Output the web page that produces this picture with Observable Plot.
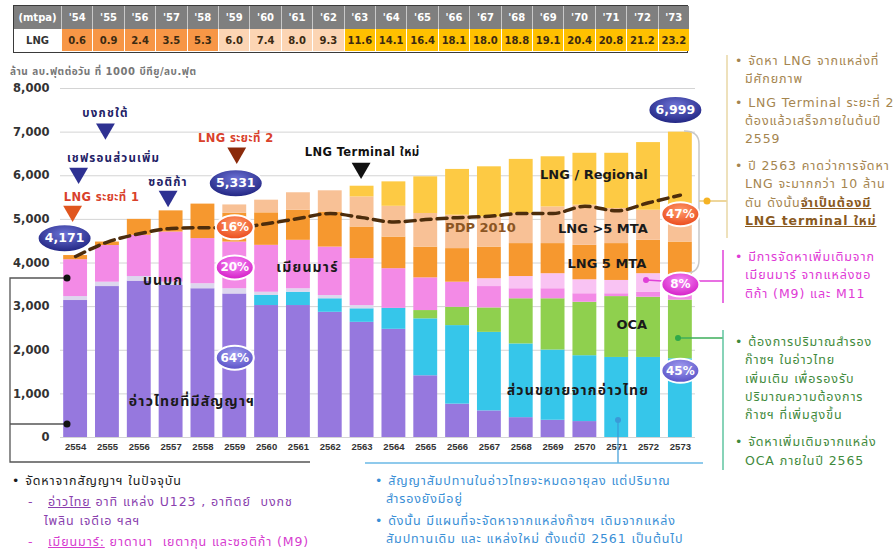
<!DOCTYPE html>
<html><head><meta charset="utf-8">
<script src="https://cdn.jsdelivr.net/npm/d3@7"></script>
<script src="https://cdn.jsdelivr.net/npm/@observablehq/plot@0.6"></script>
<style>
body{margin:0;background:#fff;font-family:"DejaVu Sans","Noto Sans Thai","Noto Sans",sans-serif;}
#root{position:relative;width:896px;height:551px;overflow:hidden;background:#fff;}
#root svg.chart{position:absolute;left:0;top:0;}
.cell{position:absolute;box-sizing:border-box;display:flex;align-items:center;justify-content:center;font-weight:bold;font-size:10px;font-family:"DejaVu Sans",sans-serif;}
.ln{position:absolute;white-space:nowrap;font-size:12.5px;line-height:16px;letter-spacing:0.9px;font-family:"DejaVu Sans","Noto Sans Thai",sans-serif;}
</style></head><body><div id="root"></div>
<script>
// ---------- data ----------
const years = ["2554","2555","2556","2557","2558","2559","2560","2561","2562","2563","2564","2565","2566","2567","2568","2569","2570","2571","2572","2573"];
const tableYears = ["'54","'55","'56","'57","'58","'59","'60","'61","'62","'63","'64","'65","'66","'67","'68","'69","'70","'71","'72","'73"];
const lngMtpa = ["0.6","0.9","2.4","3.5","5.3","6.0","7.4","8.0","9.3","11.6","14.1","16.4","18.1","18.0","18.8","19.1","20.4","20.8","21.2","23.2"];
const layerNames = ["อ่าวไทยที่มีสัญญาฯ","ส่วนขยายจากอ่าวไทย","บนบก","OCA","เมียนมาร์","เมียนมาร์ (เพิ่มเติม)","LNG 5 MTA","LNG >5 MTA","LNG / Regional"];
const gulfContract = [3140,3460,3585,3485,3410,3290,3025,3025,2870,2640,2480,1415,765,610,455,395,365,0,0,0];
const gulfExtension = [0,0,0,0,0,0,230,305,310,310,480,1305,1800,1800,1690,1610,1510,1835,1835,1805];
const onshore = [90,100,105,75,115,120,75,80,75,75,0,0,0,0,0,0,0,0,0,0];
const oca = [0,0,0,0,0,0,0,0,0,0,0,190,420,560,1035,1175,1225,1395,1380,1345];
const myanmar = [845,840,945,1150,1035,1070,1075,1110,1110,1075,910,750,575,490,230,230,195,65,110,150];
const myanmarNew = [0,0,0,0,0,0,0,0,0,0,0,0,0,180,280,345,320,305,430,410];
const lng5 = [96,80,365,485,790,660,745,690,805,725,725,705,770,725,755,690,790,845,765,770];
const lngOver5 = [0,0,0,0,0,191,290,400,485,690,705,770,765,690,690,840,920,805,690,730];
const lngRegional = [0,0,0,0,0,0,0,0,0,245,560,840,1050,1150,1240,1150,1190,1265,1550,1789];
const pdp2010 = [4150,4480,4670,4790,4810,4810,4900,5020,5135,5040,4940,4995,5040,5070,5135,5135,5300,5195,5380,5555];
const yTicks = [0,1000,2000,3000,4000,5000,6000,7000,8000];

// annotations (anchor year + value; dx = offset within the band)
const totalLabels = [{year:"2554",v:4565,t:"4,171",dx:-11},{year:"2559",v:5830,t:"5,331",dx:1},{year:"2573",v:7510,t:"6,999",dx:-5}];
const shareLabels = [{year:"2559",v:4818,t:"16%",g:"r"},{year:"2559",v:3899,t:"20%",g:"m"},{year:"2559",v:1829,t:"64%",g:"b"},
                     {year:"2573",v:5118,t:"47%",g:"r"},{year:"2573",v:3508,t:"8%",g:"m"},{year:"2573",v:1530,t:"45%",g:"b"}];
const events = [
  {year:"2554",v:5187,tv:5508,t:"LNG ระยะที่ 1",k:"red",dx:-3,tdx:26},
  {year:"2554",v:6060,tv:6405,t:"เชฟรอนส่วนเพิ่ม",k:"navy",dx:3,tdx:38},
  {year:"2555",v:7072,tv:7440,t:"บงกชใต้",k:"navy",dx:-2,tdx:-2},
  {year:"2557",v:5530,tv:5853,t:"ซอติก้า",k:"navy",dx:-3,tdx:-3},
  {year:"2559",v:6520,tv:6865,t:"LNG ระยะที่ 2",k:"brown",dx:2,tdx:1},
  {year:"2563",v:6175,tv:6543,t:"LNG Terminal ใหม่",k:"black",dx:-1,tdx:0}];
const seriesLabels = [
  {year:"2558",v:816,t:"อ่าวไทยที่มีสัญญาฯ",dx:-11},
  {year:"2557",v:3600,t:"บนบก",dx:-8},
  {year:"2561",v:3900,t:"เมียนมาร์",dx:9},
  {year:"2570",v:1070,t:"ส่วนขยายจากอ่าวไทย",dx:-7}];
const lngLabels = [
  {year:"2570",v:6015,t:"LNG / Regional",dx:9},
  {year:"2570",v:4772,t:"LNG >5 MTA",dx:18},
  {year:"2570",v:3990,t:"LNG 5 MTA",dx:22},
  {year:"2571",v:2588,t:"OCA",dx:15}];
const pdpLabel = [{year:"2567",v:4795,t:"PDP 2010",dx:-9}];

// ---------- styles ----------
const layerColors = ["#9678de","#36c6ea","#ddd7ee","#8fd04e","#f38ae6","#f9c3f3","#f6982f","#f8c196","#fdca44"];
const eventColor = {red:"#e0561e",navy:"#2e3192",brown:"#8b2a0a",black:"#111"};
const eventText = {red:"#d9412b",navy:"#1f2266",brown:"#d9412b",black:"#111"};
const shareFill = {r:"url(#gRed)",m:"url(#gMag)",b:"url(#gBlue)"};
const FONT = '"DejaVu Sans","Noto Sans Thai","Noto Sans",sans-serif';

const rows = [];
[gulfContract,gulfExtension,onshore,oca,myanmar,myanmarNew,lng5,lngOver5,lngRegional].forEach((s,li)=>
  s.forEach((v,i)=>rows.push({year:years[i],layer:layerNames[li],value:v})));
const pdpRows = years.map((y,i)=>({year:y,v:pdp2010[i]}));

const ellipse = (rx, ry) => ({draw(ctx){ const k=0.5523;
  ctx.moveTo(rx,0); ctx.bezierCurveTo(rx,ry*k,rx*k,ry,0,ry); ctx.bezierCurveTo(-rx*k,ry,-rx,ry*k,-rx,0);
  ctx.bezierCurveTo(-rx,-ry*k,-rx*k,-ry,0,-ry); ctx.bezierCurveTo(rx*k,-ry,rx,-ry*k,rx,0); ctx.closePath(); }});

// one mark per annotation so each gets its own constant offset
const texts = (arr, opts, dxKey="dx", yKey="v") => arr.map(d => Plot.text([d], {x:"year", y:yKey, text:"t", ...opts, dx:d[dxKey]||0}));
const dots = (arr, opts) => arr.map(d => Plot.dot([d], {x:"year", y:"v", ...opts, dx:d.dx||0}));

function defsMark(){
  const g = d3.create("svg:g");
  const defs = g.append("defs");
  const grad = (id, c0, c1) => { const r = defs.append("radialGradient").attr("id",id).attr("cx","50%").attr("cy","35%").attr("r","65%");
    r.append("stop").attr("offset","0%").attr("stop-color",c0); r.append("stop").attr("offset","100%").attr("stop-color",c1); };
  grad("gNavy","#6d73d6","#1f2380");
  grad("gRed","#ff9a6a","#ea4a1c");
  grad("gMag","#f58af5","#d41cc6");
  grad("gBlue","#a19ef0","#5850c6");
  return g.node();
}
function connectors(){
  const g = d3.create("svg:g").attr("fill","none");
  g.append("path").attr("d","M684,131 Q699,131 699,144 L699,260 Q699,273 686,273").attr("stroke","#c8c8c8").attr("stroke-width",1.5);
  g.append("line").attr("x1",699).attr("x2",727).attr("y1",201).attr("y2",201).attr("stroke","#e8c87a").attr("stroke-width",1.5);
  g.append("line").attr("x1",727).attr("x2",727).attr("y1",55).attr("y2",238).attr("stroke","#e8d7a6").attr("stroke-width",1.5);
  g.append("circle").attr("cx",707).attr("cy",201).attr("r",3.5).attr("fill","#f5b324");
  g.append("line").attr("x1",646).attr("x2",662).attr("y1",280).attr("y2",281).attr("stroke","#e040d8").attr("stroke-width",1.5);
  g.append("line").attr("x1",697).attr("x2",723).attr("y1",281).attr("y2",281).attr("stroke","#e040d8").attr("stroke-width",1.5);
  g.append("line").attr("x1",723).attr("x2",723).attr("y1",250).attr("y2",303).attr("stroke","#e040d8").attr("stroke-width",1.5);
  g.append("circle").attr("cx",646).attr("cy",280).attr("r",3).attr("fill","#e040d8");
  g.append("line").attr("x1",678).attr("x2",723).attr("y1",338).attr("y2",338).attr("stroke","#3cae5a").attr("stroke-width",1.5);
  g.append("line").attr("x1",723).attr("x2",723).attr("y1",330).attr("y2",470).attr("stroke","#5fc4a0").attr("stroke-width",1.5);
  g.append("circle").attr("cx",678).attr("cy",338).attr("r",3).attr("fill","#2fa84a");
  g.append("line").attr("x1",618).attr("x2",618).attr("y1",420).attr("y2",463).attr("stroke","#3a9ad8").attr("stroke-width",1.2);
  g.append("line").attr("x1",365).attr("x2",703).attr("y1",463).attr("y2",463).attr("stroke","#6ab8e6").attr("stroke-width",1.5);
  g.append("circle").attr("cx",618).attr("cy",420).attr("r",3).attr("fill","#3a9ad8");
  g.append("path").attr("d","M67,278 L10,278 L10,462 L310,462").attr("stroke","#555").attr("stroke-width",1.3);
  g.append("line").attr("x1",10).attr("x2",67).attr("y1",424).attr("y2",424).attr("stroke","#555").attr("stroke-width",1.3);
  g.append("circle").attr("cx",67).attr("cy",278).attr("r",3.5).attr("fill","#111");
  g.append("circle").attr("cx",67).attr("cy",424).attr("r",3.5).attr("fill","#111");
  return g.node();
}

const chart = Plot.plot({
  width:896, height:551, marginTop:88, marginBottom:114, marginLeft:60, marginRight:201,
  style:{fontFamily:FONT, background:"transparent", overflow:"visible"},
  x:{domain:years, paddingInner:0.25, paddingOuter:0.1, round:false, axis:null, label:null},
  y:{domain:[0,8000], axis:null, label:null},
  color:{domain:layerNames, range:layerColors},
  marks:[
    defsMark,
    Plot.gridY(yTicks,{stroke:"#d4d4d4",strokeOpacity:1}),
    Plot.axisY(yTicks,{tickSize:0,tickPadding:11,tickFormat:d3.format(","),fontWeight:"bold",fontSize:11.5,fill:"#333",label:null,fontFamily:'"DejaVu Sans",sans-serif'}),
    Plot.axisX({tickSize:0,tickPadding:6,fontWeight:"bold",fontSize:9.5,fill:"#333",label:null,fontFamily:'"Liberation Sans",Arial,sans-serif'}),
    Plot.barY(rows,{x:"year",y:"value",fill:"layer",order:layerNames}),
    Plot.line(pdpRows,{x:"year",y:"v",stroke:"#4d2d0c",strokeWidth:3.5,strokeDasharray:"10,6",curve:"monotone-x"}),
    connectors,
    ...texts(seriesLabels,{fontWeight:"bold",fontSize:14,fill:"#1a1a1a"}),
    ...texts(lngLabels,{fontWeight:"bold",fontSize:13,fill:"#1a1a1a"}),
    ...texts(pdpLabel,{fontWeight:"bold",fontSize:13,fill:"#8b5523"}),
    ...dots(events,{symbol:"triangle",r:7,rotate:180,fill:d=>eventColor[d.k],stroke:"none"}),
    ...texts(events,{fontWeight:"bold",fontSize:11.5,fill:d=>eventText[d.k]},"tdx","tv"),
    ...dots(totalLabels,{symbol:ellipse(27,14),fill:"url(#gNavy)",stroke:"white",strokeWidth:2}),
    ...texts(totalLabels,{fill:"white",fontWeight:"bold",fontSize:12.5}),
    ...dots(shareLabels,{symbol:ellipse(19,12),fill:d=>shareFill[d.g],stroke:"white",strokeWidth:2}),
    ...texts(shareLabels,{fill:"white",fontWeight:"bold",fontSize:12})
  ]
});
chart.classList.add("chart");
// wider tracking for Thai labels to approximate the original Thai face
d3.select(chart).selectAll("text").filter(function(){ return /[\u0E00-\u0E7F]/.test(this.textContent); })
  .style("letter-spacing", function(){ return /[A-Za-z]/.test(this.textContent) ? "0.4px" : "1.2px"; });
const root = document.getElementById("root");
root.appendChild(chart);

// ---------- LNG table ----------
const tbl = d3.select(root).append("div").style("position","absolute").style("left","13px").style("top","5px")
  .style("width","675px").style("height","48px").style("border","1.5px solid #3a3a3a").style("box-sizing","border-box");
const colX = i => 47 + i*31.4;
tbl.append("div").attr("class","cell").style("left","0px").style("top","0px").style("width","47px").style("height","23px")
  .style("background","#7f7f7f").style("color","#fff").text("(mtpa)");
tbl.append("div").attr("class","cell").style("left","0px").style("top","23px").style("width","47px").style("height","22px")
  .style("background","#fff").style("color","#333").text("LNG");
const valBg = i => i < 5 ? "#f79646" : i < 9 ? "#fcd5b4" : "#ffc000";
tableYears.forEach((t,i)=>{
  tbl.append("div").attr("class","cell").style("left",colX(i)+"px").style("top","0px").style("width","31.4px").style("height","23px")
    .style("background","#7f7f7f").style("color","#fff").style("border-left","1px solid #c8c8c8").text(t);
  tbl.append("div").attr("class","cell").style("left",colX(i)+"px").style("top","23px").style("width","31.4px").style("height","22px")
    .style("background",valBg(i)).style("color","#3b2a12").style("border-left","1px solid #fff").text(lngMtpa[i]);
});

// ---------- y axis title ----------
d3.select(root).append("div").attr("class","ln").style("left","10px").style("top","64px").style("font-size","10px")
  .style("letter-spacing","0.5px").style("font-weight","bold").style("color","#777").text("ล้าน ลบ.ฟุตต่อวัน ที่ 1000 บีทียู/ลบ.ฟุต");

// ---------- notes ----------
function note(lines, color){
  lines.forEach(([html, x, y])=>{
    d3.select(root).append("div").attr("class","ln").style("left",x+"px").style("top",(y-8)+"px").style("color",color).html(html);
  });
}
note([["• จัดหา LNG จากแหล่งที่",735,61],["มีศักยภาพ",745,79],["• LNG Terminal ระยะที่ 2",735,103],["ต้องแล้วเสร็จภายในต้นปี",745,121],
      ["2559",745,139],["• ปี 2563 คาดว่าการจัดหา",735,166],["LNG จะมากกว่า 10 ล้าน",745,184],
      ["ตัน  ดังนั้น<u style='color:#8a5a1e;font-weight:bold'>จำเป็นต้องมี</u>",745,203],
      ["<u style='color:#8a5a1e;font-weight:bold'>LNG terminal ใหม่</u>",745,221]],"#a5854f");
note([["• มีการจัดหาเพิ่มเติมจาก",735,257],["เมียนมาร์ จากแหล่งซอ",745,275],["ติก้า (M9) และ M11",745,294]],"#e03ad6");
note([["• ต้องการปริมาณสำรอง",735,342],["ก๊าซฯ ในอ่าวไทย",745,360],["เพิ่มเติม เพื่อรองรับ",745,379],["ปริมาณความต้องการ",745,397],
      ["ก๊าซฯ ที่เพิ่มสูงขึ้น",745,415],["• จัดหาเพิ่มเติมจากแหล่ง",735,442],["OCA ภายในปี 2565",745,461]],"#3f8a3c");
note([["• สัญญาสัมปทานในอ่าวไทยจะหมดอายุลง แต่ปริมาณ",375,481],["สำรองยังมีอยู่",386,499],
      ["• ดังนั้น มีแผนที่จะจัดหาจากแหล่งก๊าซฯ เดิมจากแหล่ง",375,521],["สัมปทานเดิม และ แหล่งใหม่ ตั้งแต่ปี 2561 เป็นต้นไป",386,539]],"#3a8fd6");
note([["• จัดหาจากสัญญาฯ ในปัจจุบัน",12,481]],"#1a1a1a");
note([["-&nbsp;&nbsp;&nbsp;<u>อ่าวไทย</u> อาทิ แหล่ง U123 , อาทิตย์&nbsp;&nbsp;บงกช",28,502],["ไพลิน เจดีเอ ฯลฯ",44,521]],"#8a3fae");
note([["-&nbsp;&nbsp;&nbsp;<u>เมียนมาร์:</u> ยาดานา&nbsp;&nbsp;เยตากุน และซอติก้า (M9)",28,542]],"#d63ccf");
</script></body></html>
